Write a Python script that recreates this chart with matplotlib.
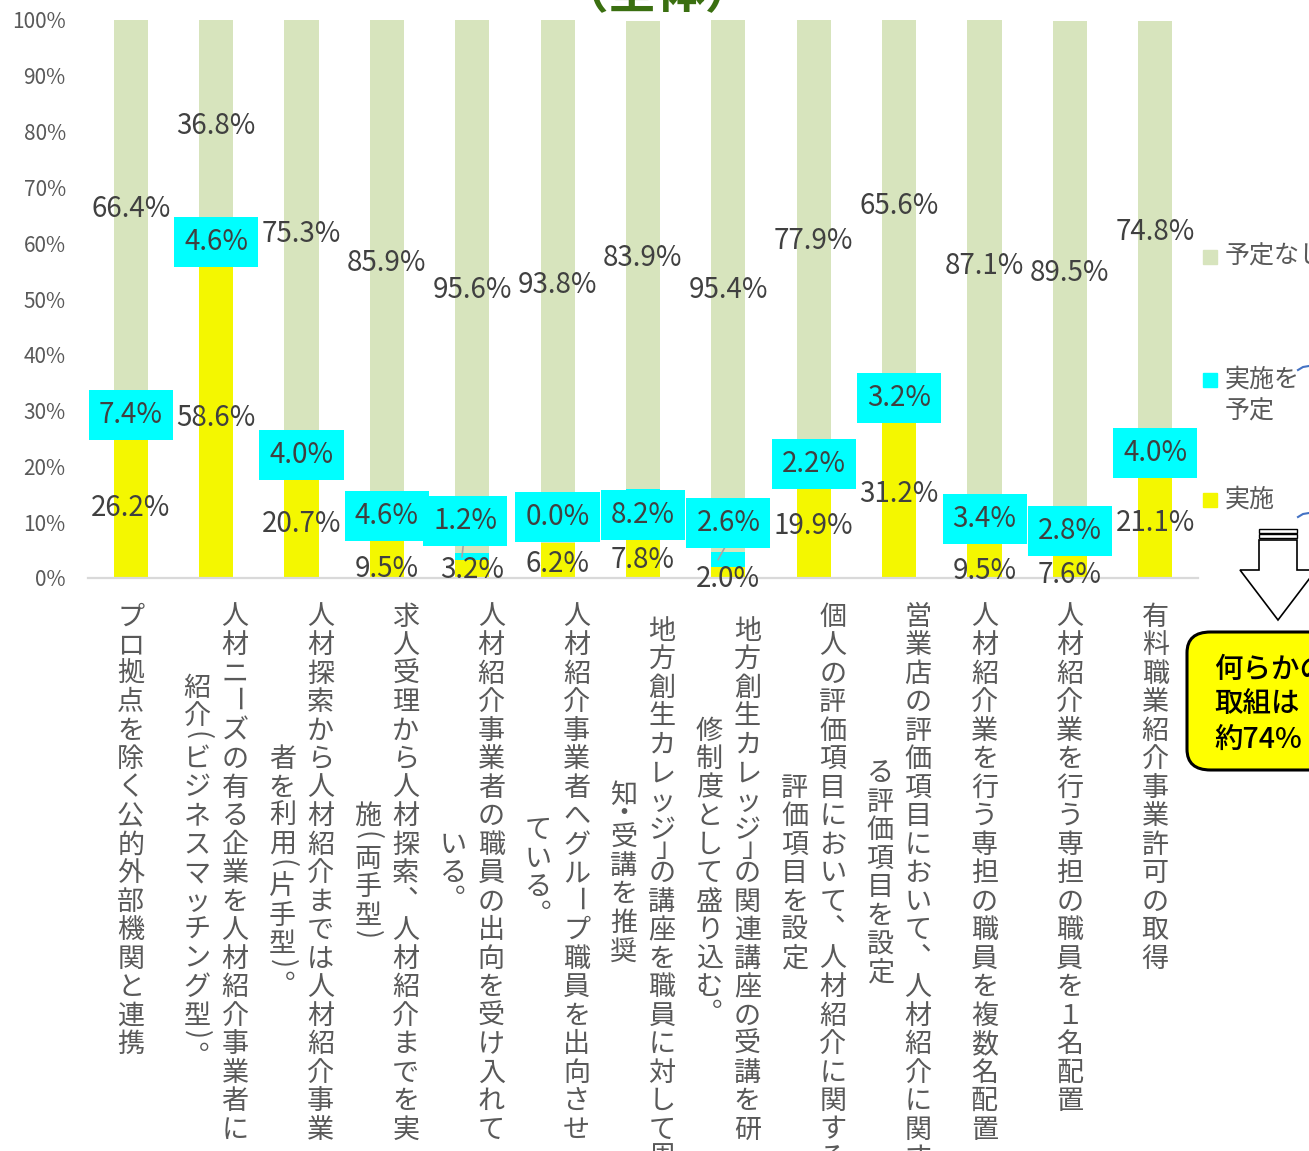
import matplotlib
matplotlib.use("Agg")
import matplotlib.pyplot as plt
import matplotlib.transforms as mtransforms
import numpy as np
from matplotlib.patches import Rectangle, Polygon, FancyBboxPatch
from matplotlib.lines import Line2D

plt.rcParams["font.family"] = ["Noto Sans CJK JP", "DejaVu Sans"]

W, H = 1309, 1151

categories = [
    "プロ拠点を除く公的外部機関と連携",
    "人材ニーズの有る企業を人材紹介事業者に\n紹介(ビジネスマッチング型)。",
    "人材探索から人材紹介までは人材紹介事業\n者を利用(片手型)。",
    "求人受理から人材探索、人材紹介までを実\n施(両手型)",
    "人材紹介事業者の職員の出向を受け入れて\nいる。",
    "人材紹介事業者へグループ職員を出向させ\nている。",
    " 地方創生カレッジ｣の講座を職員に対して周\n知・受講を推奨",
    " 地方創生カレッジ｣の関連講座の受講を研\n修制度として盛り込む。",
    "個人の評価項目において、人材紹介に関する\n評価項目を設定",
    "営業店の評価項目において、人材紹介に関す\nる評価項目を設定",
    "人材紹介業を行う専担の職員を複数名配置",
    "人材紹介業を行う専担の職員を１名配置",
    "有料職業紹介事業許可の取得",
]
done = np.array([26.2, 58.6, 20.7, 9.5, 3.2, 6.2, 7.8, 2.0, 19.9, 31.2, 9.5, 7.6, 21.1])
planned = np.array([7.4, 4.6, 4.0, 4.6, 1.2, 0.0, 8.2, 2.6, 2.2, 3.2, 3.4, 2.8, 4.0])
none_ = np.array([66.4, 36.8, 75.3, 85.9, 95.6, 93.8, 83.9, 95.4, 77.9, 65.6, 87.1, 89.5, 74.8])
series_names = ["実施", "実施を\n予定", "予定なし"]

YELLOW = "#F4F700"
CYAN = "#00FFFF"
GREEN = "#D7E4BD"
LABEL_C = "#404040"
TICK_C = "#595959"

# hand-placed nudges (in % units) for labels that would overlap
done_dy = {3: -2.45, 4: 0.5, 7: -0.5, 10: -2.9, 11: -2.7}
plan_dy = {4: 7.1, 5: 5.3, 7: 7.1}
plan_dx = {4: -0.08}
leader = {4, 7}


def fx(px):
    return px / W


def fy(py):
    return 1 - py / H


fig = plt.figure(figsize=(W / 100, H / 100), dpi=100)
ax = fig.add_axes([fx(88), fy(578), 1110 / W, 558 / H])

x = np.arange(len(categories))
ax.bar(x, done, width=0.4, color=YELLOW, zorder=2)
ax.bar(x, planned, width=0.4, bottom=done, color=CYAN, zorder=2)
ax.bar(x, none_, width=0.4, bottom=done + planned, color=GREEN, zorder=2)

ax.set_xlim(-0.5, len(categories) - 0.5)
ax.set_ylim(0, 100)
ax.set_yticks(np.arange(0, 101, 10))
ax.set_yticklabels([f"{v}%" for v in range(0, 101, 10)], fontsize=15, color=TICK_C)
ax.set_xticks([])
ax.tick_params(axis="y", length=0, pad=16)
for side in ("top", "right", "left"):
    ax.spines[side].set_visible(False)
ax.spines["bottom"].set_color("#D9D9D9")
ax.spines["bottom"].set_linewidth(1.6)
ax.spines["bottom"].set_zorder(3)

# value labels sit a touch lower than the text box centre
lab_tr = mtransforms.offset_copy(ax.transData, fig=fig, y=-2.5, units="points")

for i in x:
    ax.text(i, done[i] / 2 + done_dy.get(i, 0), f"{done[i]:.1f}%", ha="center",
            va="center", fontsize=20, color=LABEL_C, zorder=5, transform=lab_tr)
    top = done[i] + planned[i]
    ax.text(i, (top + 100) / 2, f"{none_[i]:.1f}%", ha="center", va="center",
            fontsize=20, color=LABEL_C, zorder=5, transform=lab_tr)
    py = done[i] + planned[i] / 2 + plan_dy.get(i, 0)
    px = i + plan_dx.get(i, 0)
    if i in leader:
        ax.plot([px - 0.02, i - 0.12], [py - 4.3, done[i] + planned[i] / 2],
                color="#A6A6A6", lw=1.2, zorder=4)
    ax.text(px, py, f"{planned[i]:.1f}%", ha="center", va="center", fontsize=20,
            color=LABEL_C, zorder=6, transform=lab_tr,
            bbox=dict(boxstyle="square,pad=0.36", fc=CYAN, ec="none"))

# vertical (tategaki) category labels
PITCH = 28.5
EM = 19.5 * 100 / 72
ROTATE = set("ー()（）")
HALF = set("()｣・ ")
AXIS_Y = 578


def draw_vertical(xc, ytop, line):
    y = ytop
    for ch in line:
        step = PITCH / 2 if ch in HALF else PITCH
        if ch == " ":
            y += step
            continue
        cy = y + step / 2
        if ch in ROTATE:
            fig.text(fx(xc), fy(cy), ch, rotation=-90, rotation_mode="anchor",
                     ha="center", va="center", fontsize=19.5, color=TICK_C)
        elif ch in "、。":
            fig.text(fx(xc + PITCH * 0.55), fy(cy + 0.38 * EM - PITCH * 0.6), ch,
                     ha="center", va="baseline", fontsize=19.5, color=TICK_C)
        elif ch in HALF:
            fig.text(fx(xc), fy(cy), ch, ha="center", va="center",
                     fontsize=19.5, color=TICK_C)
        else:
            fig.text(fx(xc), fy(cy + 0.38 * EM), ch, ha="center", va="baseline",
                     fontsize=19.5, color=TICK_C)
        y += step


def line_cells(line):
    return sum(0.5 if c in HALF else 1 for c in line)


for i, label in enumerate(categories):
    xc = ax.transData.transform((i, 0))[0]
    xc = xc * W / fig.bbox.width
    lines = label.split("\n")
    ncol = len(lines)
    for k, line in enumerate(lines):
        colx = xc + 19 * (ncol - 1) - 38 * k
        if k == 0:
            ytop = 600
        else:
            ytop = 600 + (19 - line_cells(line)) * PITCH / 2
        draw_vertical(colx, ytop, line)

# legend
legend_rows = [(series_names[2], GREEN, 257), (series_names[1], CYAN, 380), (series_names[0], YELLOW, 500)]
for name, col, yc in legend_rows:
    fig.patches.append(Rectangle((fx(1203), fy(yc + 7)), 14 / W, 14 / H, color=col,
                                 transform=fig.transFigure, figure=fig))
    for j, part in enumerate(name.split("\n")):
        fig.text(fx(1225), fy(yc + 32 * j), part, ha="left", va="center",
                 fontsize=18, color=TICK_C)

# brace ends beside legend
for yb in (367, 514):
    fig.lines.append(Line2D([fx(1298), fx(1303), fx(1309)], [fy(yb + 3), fy(yb), fy(yb - 1)],
                            color="#4472C4", lw=1.5, transform=fig.transFigure, figure=fig))

# down arrow
arrow = [(1259, 540), (1297, 540), (1297, 570), (1316, 570), (1278, 620),
         (1240, 570), (1259, 570)]
fig.patches.append(Polygon([(fx(a), fy(b)) for a, b in arrow], closed=True, fc="white",
                           ec="black", lw=1.2, transform=fig.transFigure, figure=fig))
for y0 in (529, 534):
    fig.patches.append(Rectangle((fx(1259), fy(y0 + 4)), 38 / W, 4 / H, fc="white",
                                 ec="black", lw=1.0, transform=fig.transFigure, figure=fig))

# callout box
box = FancyBboxPatch((fx(1187), fy(770)), 160 / W, 138 / H,
                     boxstyle="round,pad=0,rounding_size=0.018", fc="#FFFF00",
                     ec="black", lw=2.2, transform=fig.transFigure, figure=fig)
fig.patches.append(box)
for j, t in enumerate(["何らかの", "取組は", "約74%"]):
    fig.text(fx(1214), fy(669 + 35 * j), t, ha="left", va="center", fontsize=20.5,
             fontweight="medium", color="black")

fig.text(fx(657), fy(8), "（全体）", ha="center", va="baseline", fontsize=35,
         fontweight="bold", color="#3A6F10")

fig.savefig("out.png", dpi=100)
